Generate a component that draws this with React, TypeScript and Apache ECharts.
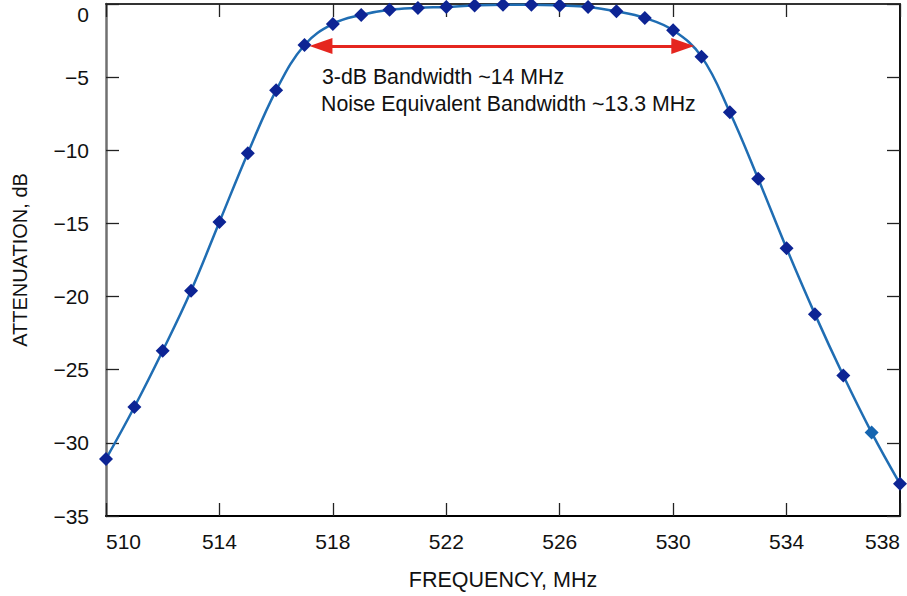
import React, { useEffect, useRef } from "react";
import * as echarts from "echarts";

const frequencies = [
  510, 511, 512, 513, 514, 515, 516, 517, 518, 519, 520, 521, 522, 523, 524,
  525, 526, 527, 528, 529, 530, 531, 532, 533, 534, 535, 536, 537, 538,
];
const attenuation = [
  -31.1, -27.55, -23.7, -19.6, -14.9, -10.2, -5.9, -2.8, -1.36, -0.75, -0.4,
  -0.27, -0.2, -0.1, -0.05, -0.05, -0.1, -0.2, -0.5, -0.95, -1.8, -3.6, -7.4,
  -11.95, -16.7, -21.2, -25.4, -29.3, -32.8,
];
const xTicks = [510, 514, 518, 522, 526, 530, 534, 538];
const bandwidthArrow = { from: 517.58, to: 530.34, level: -2.87 };
const annotationLines = [
  "3-dB Bandwidth ~14 MHz",
  "Noise Equivalent Bandwidth ~13.3 MHz",
];
const lighterPointFreq = 537;

const FONT = "'Liberation Sans', Arial, Helvetica, sans-serif";

export default function App() {
  const ref = useRef<HTMLDivElement>(null);
  useEffect(() => {
    if (!ref.current) return;
    const chart = echarts.init(ref.current, null, { renderer: "svg" });
    const data = frequencies.map((f, i) => {
      const item: any = { value: [f, attenuation[i]] };
      if (f === lighterPointFreq) item.itemStyle = { color: "#1565b0" };
      return item;
    });
    chart.setOption({
      animation: false,
      backgroundColor: "#ffffff",
      grid: { left: 106, right: 7, top: 4, bottom: 79, containLabel: false },
      xAxis: [
        {
          type: "value",
          position: "bottom",
          min: 510,
          max: 538,
          name: "FREQUENCY, MHz",
          nameLocation: "middle",
          nameGap: 53,
          nameTextStyle: { fontFamily: FONT, fontSize: 21.5, color: "#111" },
          axisLine: { show: true, onZero: false, lineStyle: { color: "#000", width: 2 } },
          axisTick: {
            show: true,
            inside: true,
            length: 13,
            customValues: xTicks,
            lineStyle: { color: "#222", width: 1.3 },
          },
          axisLabel: {
            customValues: xTicks,
            fontFamily: FONT,
            fontSize: 21,
            color: "#111",
            margin: 15,
            alignMinLabel: "left",
            alignMaxLabel: "right",
          },
          splitLine: { show: false },
        },
        {
          type: "value",
          position: "top",
          min: 510,
          max: 538,
          axisLine: { show: true, onZero: false, lineStyle: { color: "#333", width: 2 } },
          axisTick: {
            show: true,
            inside: true,
            length: 13,
            customValues: xTicks,
            lineStyle: { color: "#222", width: 1.3 },
          },
          axisLabel: { show: false },
          splitLine: { show: false },
        },
      ],
      yAxis: [
        {
          type: "value",
          position: "left",
          min: -35,
          max: 0,
          interval: 5,
          name: "ATTENUATION, dB",
          nameLocation: "middle",
          nameGap: 76,
          nameTextStyle: { fontFamily: FONT, fontSize: 20, color: "#111" },
          axisLine: { show: true, onZero: false, lineStyle: { color: "#707070", width: 2.5 } },
          axisTick: { show: true, inside: true, length: 13, lineStyle: { color: "#222", width: 1.3 } },
          axisLabel: {
            fontFamily: FONT,
            fontSize: 21,
            color: "#111",
            margin: 17,
            verticalAlignMaxLabel: "top",
            formatter: (v: number) => (v < 0 ? "\u2212" + Math.abs(v) : String(v)),
          },
          splitLine: { show: false },
        },
        {
          type: "value",
          position: "right",
          min: -35,
          max: 0,
          interval: 5,
          axisLine: { show: true, onZero: false, lineStyle: { color: "#111", width: 2 } },
          axisTick: { show: true, inside: true, length: 13, lineStyle: { color: "#222", width: 1.3 } },
          axisLabel: { show: false },
          splitLine: { show: false },
        },
      ],
      series: [
        {
          type: "line",
          xAxisIndex: 0,
          yAxisIndex: 0,
          data,
          smooth: 0.4,
          symbol: "diamond",
          symbolSize: 14,
          showAllSymbol: true,
          clip: false,
          lineStyle: { color: "#1f6db3", width: 2.5 },
          itemStyle: { color: "#0d2494" },
          markLine: {
            silent: true,
            symbol: ["triangle", "triangle"],
            lineStyle: { color: "#e5261f", width: 3, type: "solid" },
            label: { show: false },
            data: [
              [
                { coord: [bandwidthArrow.from, bandwidthArrow.level], symbolSize: [16, 23] },
                { coord: [bandwidthArrow.to, bandwidthArrow.level], symbolSize: [16, 23] },
              ],
            ],
          },
        },
      ],
      graphic: [
        {
          type: "text",
          x: 322,
          y: 77,
          style: {
            text: annotationLines[0],
            fontFamily: FONT,
            fontSize: 21.3,
            fill: "#111",
            verticalAlign: "middle",
            align: "left",
          },
        },
        {
          type: "text",
          x: 321,
          y: 104,
          style: {
            text: annotationLines[1],
            fontFamily: FONT,
            fontSize: 21.3,
            fill: "#111",
            verticalAlign: "middle",
            align: "left",
          },
        },
      ],
    });
    return () => chart.dispose();
  }, []);
  return (
    <div
      ref={ref}
      style={{ position: "absolute", left: 0, top: 0, width: 907, height: 596 }}
    />
  );
}
